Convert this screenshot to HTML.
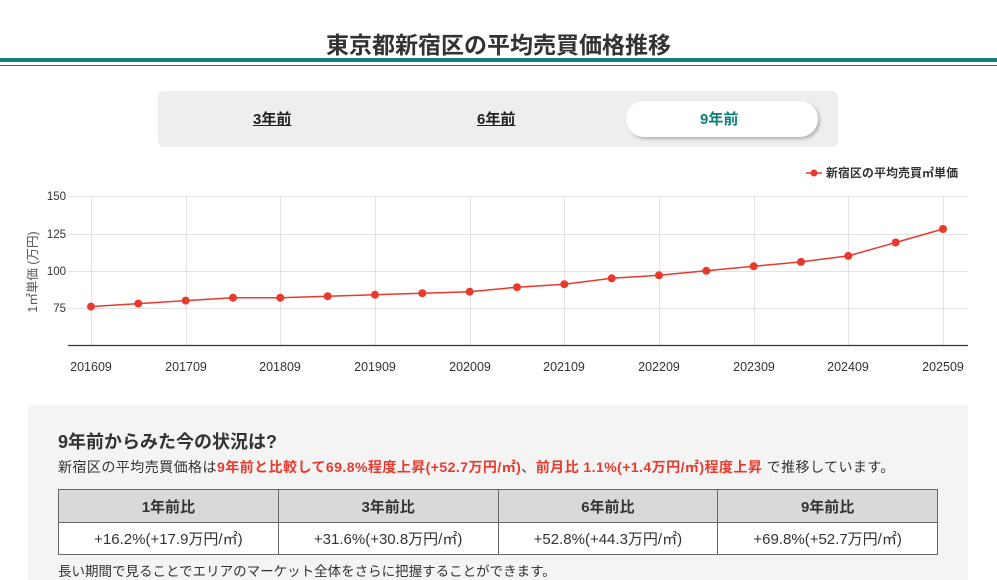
<!DOCTYPE html>
<html><head><meta charset="utf-8"><style>
*{margin:0;padding:0;box-sizing:border-box}
body{width:997px;height:580px;overflow:hidden;background:#fff;font-family:"Liberation Sans","Noto Sans CJK JP",sans-serif;color:#333;position:relative}
.abs{position:absolute}
h1{position:absolute;left:0;width:997px;top:26px;text-align:center;font-size:23px;font-weight:bold;color:#333}
.tab{position:absolute;top:108px;font-size:15px;font-weight:bold;text-decoration:underline;color:#222}
table{position:absolute;left:58px;top:489px;width:880px;border-collapse:collapse;font-size:15px}
td,th{border:1px solid #666;text-align:center}
th{background:#d9d9d9;height:33px;font-weight:bold}
td{background:#fff;height:32px}
</style></head><body>
<h1>東京都新宿区の平均売買価格推移</h1>
<div class="abs" style="left:0;top:58px;width:997px;height:4px;background:#0d7f78"></div>
<div class="abs" style="left:0;top:65px;width:997px;height:1px;background:#0d7f78"></div>
<div class="abs" style="left:158px;top:91px;width:680px;height:56px;background:#eeeeee;border-radius:6px"></div>
<div class="abs" style="left:626px;top:101px;width:192px;height:36px;background:#fff;border-radius:18px;box-shadow:2px 2px 3px rgba(0,0,0,0.25)"></div>
<div class="tab" style="left:253px">3年前</div>
<div class="tab" style="left:477px">6年前</div>
<div class="tab" style="left:700px;color:#0d7f78;text-decoration:none">9年前</div>
<svg class="abs" style="left:0;top:0" width="997" height="400" font-family="Liberation Sans, Noto Sans CJK JP, sans-serif">
<g stroke="#e3e3e3" stroke-width="1">
<line x1="68" y1="196.5" x2="968" y2="196.5"/><line x1="68" y1="234.5" x2="968" y2="234.5"/><line x1="68" y1="271.5" x2="968" y2="271.5"/><line x1="68" y1="308.5" x2="968" y2="308.5"/>
<line x1="91.5" y1="196" x2="91.5" y2="345"/><line x1="186.5" y1="196" x2="186.5" y2="345"/><line x1="280.5" y1="196" x2="280.5" y2="345"/><line x1="375.5" y1="196" x2="375.5" y2="345"/><line x1="470.5" y1="196" x2="470.5" y2="345"/><line x1="564.5" y1="196" x2="564.5" y2="345"/><line x1="659.5" y1="196" x2="659.5" y2="345"/><line x1="754.5" y1="196" x2="754.5" y2="345"/><line x1="848.5" y1="196" x2="848.5" y2="345"/><line x1="943.5" y1="196" x2="943.5" y2="345"/>
</g>
<line x1="68" y1="345.5" x2="968" y2="345.5" stroke="#333" stroke-width="1.2"/>
<g font-size="11.5" fill="#333" text-anchor="end"><text x="66" y="200">150</text><text x="66" y="238">125</text><text x="66" y="275">100</text><text x="66" y="312">75</text></g>
<g font-size="12.5" fill="#333" text-anchor="middle">
<text x="91" y="371">201609</text><text x="186" y="371">201709</text><text x="280" y="371">201809</text><text x="375" y="371">201909</text><text x="470" y="371">202009</text><text x="564" y="371">202109</text><text x="659" y="371">202209</text><text x="754" y="371">202309</text><text x="848" y="371">202409</text><text x="943" y="371">202509</text></g>
<text transform="translate(37,272) rotate(-90)" font-size="12.5" fill="#555" text-anchor="middle">1㎡単価 (万円)</text>
<polyline fill="none" stroke="#e8392c" stroke-width="1.5" points="91,306.6 138.3,303.6 185.7,300.6 233,297.7 280.3,297.7 327.7,296.2 375,294.7 422.3,293.2 469.7,291.7 517,287.2 564.3,284.2 611.7,278.3 659,275.3 706.3,270.8 753.7,266.3 801,261.9 848.3,255.9 895.7,242.5 943,229"/>
<g fill="#e8392c">
<circle cx="91" cy="306.6" r="4"/><circle cx="138.3" cy="303.6" r="4"/><circle cx="185.7" cy="300.6" r="4"/><circle cx="233" cy="297.7" r="4"/><circle cx="280.3" cy="297.7" r="4"/><circle cx="327.7" cy="296.2" r="4"/><circle cx="375" cy="294.7" r="4"/><circle cx="422.3" cy="293.2" r="4"/><circle cx="469.7" cy="291.7" r="4"/><circle cx="517" cy="287.2" r="4"/><circle cx="564.3" cy="284.2" r="4"/><circle cx="611.7" cy="278.3" r="4"/><circle cx="659" cy="275.3" r="4"/><circle cx="706.3" cy="270.8" r="4"/><circle cx="753.7" cy="266.3" r="4"/><circle cx="801" cy="261.9" r="4"/><circle cx="848.3" cy="255.9" r="4"/><circle cx="895.7" cy="242.5" r="4"/><circle cx="943" cy="229" r="4"/>
<line x1="806" y1="173" x2="822" y2="173" stroke="#e8392c" stroke-width="1.5"/><circle cx="814" cy="173" r="3.5"/>
</g>
<text x="826" y="177" font-size="11.8" font-weight="bold" fill="#333" textLength="132">新宿区の平均売買㎡単価</text>
</svg>
<div class="abs" style="left:28px;top:405px;width:940px;height:175px;background:#f4f4f4"></div>
<div class="abs" style="left:58px;top:428px;font-size:18px;font-weight:bold;color:#333">9年前からみた今の状況は?</div>
<div class="abs" style="left:58px;top:457px;font-size:14px;letter-spacing:0.45px;color:#333;white-space:nowrap">新宿区の平均売買価格は<b style="color:#e8392c">9年前と比較して69.8%程度上昇(+52.7万円/㎡)</b>、<b style="color:#e8392c">前月比 1.1%(+1.4万円/㎡)程度上昇</b> で推移しています。</div>
<table><tr><th>1年前比</th><th>3年前比</th><th>6年前比</th><th>9年前比</th></tr>
<tr><td>+16.2%(+17.9万円/㎡)</td><td>+31.6%(+30.8万円/㎡)</td><td>+52.8%(+44.3万円/㎡)</td><td>+69.8%(+52.7万円/㎡)</td></tr></table>
<div class="abs" style="left:58px;top:560px;font-size:13.5px;color:#333">長い期間で見ることでエリアのマーケット全体をさらに把握することができます。</div>
</body></html>
